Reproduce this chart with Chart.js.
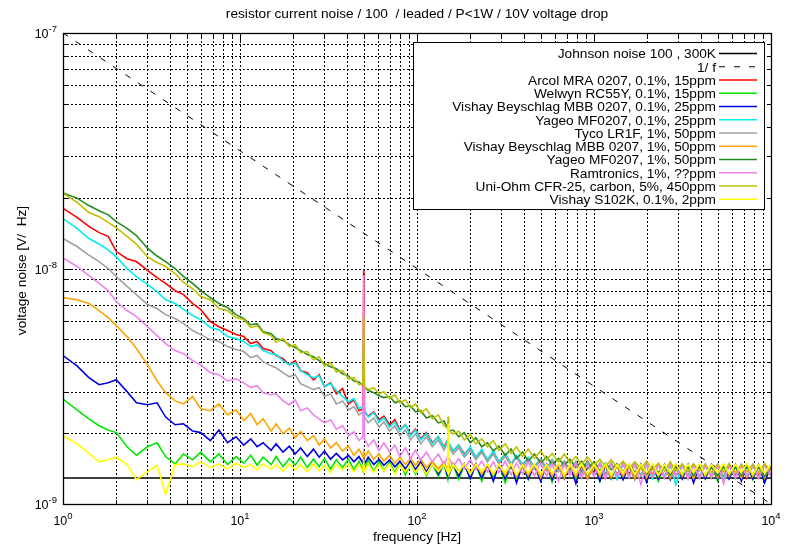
<!DOCTYPE html>
<html>
<head>
<meta charset="utf-8">
<title>resistor current noise</title>
<script src="https://cdn.jsdelivr.net/npm/chart.js@4.4.1/dist/chart.umd.min.js"></script>
<style>
  body { margin: 0; background: #fff; }
  canvas { display: block; }
</style>
</head>
<body>
<canvas id="noiseChart" width="794" height="547"></canvas>
<script>
// frequenzen [Hz], gemeinsam fuer alle messungen
const freqs = [1, 1.2, 1.4, 1.6, 1.8, 2, 2.3, 2.6, 3, 3.4, 3.8, 4.3, 4.8, 5.4, 6, 6.8, 7.6, 8.5, 9.5,
  10.5, 11.5, 12.5, 13.5, 15, 16, 17.5, 19, 20.5, 22, 24, 26, 28, 30, 32.5, 35, 38, 41, 44, 47, 49.5, 50, 50.5,
  53, 57, 61, 65, 70, 75, 80, 86, 92, 98,
  105, 113, 122, 132, 142, 149, 150, 151, 160, 172, 185, 200, 215, 232, 250, 270, 290, 315, 340, 365, 395,
  425, 460, 500, 540, 580, 630, 680, 730, 790, 850, 920, 1000,
  1080, 1160, 1250, 1350, 1460, 1580, 1700, 1840, 1980, 2140, 2310, 2500, 2700, 2900, 3150, 3400, 3650,
  3950, 4250, 4600, 5000, 5400, 5800, 6300, 6800, 7300, 7900, 8500, 9200, 10000];

// spannungsrauschen in nV/sqrt(Hz)
const arcol = [18.0, 16.5, 15.1, 14.2, 13.7, 11.8, 11.0, 10.7, 9.81, 9.15,
  8.64, 8.05, 7.75, 7.10, 6.70, 5.95, 5.66, 5.45, 5.24, 5.14,
  4.80, 4.90, 4.57, 4.48, 4.27, 4.14, 3.90, 4.06, 3.68, 3.61,
  3.37, 3.54, 3.15, 3.27, 2.94, 3.09, 2.66, 2.77, 2.49, 2.54,
  9.81, 2.46, 2.36, 2.46, 2.28, 2.36, 2.17, 2.28, 2.06, 2.17,
  1.97, 2.08, 1.89, 2.01, 1.82, 1.93, 1.75, 1.87, 1.76, 1.80,
  1.68, 1.78, 1.63, 1.73, 1.58, 1.69, 1.54, 1.66, 1.51, 1.63,
  1.48, 1.59, 1.47, 1.56, 1.44, 1.55, 1.41, 1.54, 1.40, 1.52,
  1.38, 1.51, 1.37, 1.52, 1.36, 1.49, 1.34, 1.49, 1.33, 1.48,
  1.34, 1.48, 1.32, 1.47, 1.33, 1.48, 1.31, 1.47, 1.32, 1.46,
  1.31, 1.47, 1.29, 1.46, 1.31, 1.47, 1.29, 1.46, 1.31, 1.47,
  1.29, 1.46, 1.31, 1.47, 1.32];

const welwyn = [2.79, 2.51, 2.30, 2.15, 2.06, 2.01, 1.75, 1.61, 1.75, 1.82,
  1.59, 1.48, 1.63, 1.54, 1.66, 1.51, 1.63, 1.47, 1.59, 1.49,
  1.61, 1.46, 1.58, 1.47, 1.59, 1.44, 1.56, 1.46, 1.58, 1.43,
  1.55, 1.44, 1.56, 1.41, 1.54, 1.43, 1.55, 1.40, 1.52, 1.38,
  1.51, 1.41, 1.54, 1.37, 1.52, 1.38, 1.51, 1.36, 1.51, 1.33,
  1.49, 1.34, 1.49, 1.32, 1.48, 1.31, 1.48, 1.28, 1.48, 1.31,
  1.47, 1.27, 1.47, 1.29, 1.48, 1.25, 1.47, 1.29, 1.47, 1.23,
  1.47, 1.28, 1.46, 1.27, 1.47, 1.29, 1.46, 1.24, 1.47, 1.28,
  1.46, 1.27, 1.47, 1.29, 1.46, 1.25, 1.47, 1.28, 1.46, 1.29,
  1.47, 1.27, 1.46, 1.28, 1.47, 1.25, 1.46, 1.29, 1.47, 1.28,
  1.46, 1.27, 1.47, 1.29, 1.46, 1.25, 1.47, 1.28, 1.46, 1.29,
  1.47, 1.27, 1.46, 1.28, 1.47];

const vishayMbb01 = [4.27, 3.86, 3.44, 3.21, 3.27, 3.37, 3.00, 2.69, 2.64, 2.69,
  2.34, 2.17, 2.19, 2.04, 2.01, 1.86, 2.06, 1.82, 1.93, 1.78,
  1.89, 1.75, 1.82, 1.69, 1.80, 1.66, 1.76, 1.63, 1.73, 1.59,
  1.71, 1.58, 1.68, 1.55, 1.64, 1.54, 1.61, 1.51, 1.59, 1.49,
  1.56, 1.48, 1.58, 1.47, 1.55, 1.46, 1.54, 1.44, 1.52, 1.41,
  1.52, 1.40, 1.51, 1.37, 1.51, 1.34, 1.49, 1.32, 1.49, 1.33,
  1.48, 1.31, 1.48, 1.28, 1.48, 1.29, 1.47, 1.25, 1.47, 1.28,
  1.47, 1.23, 1.47, 1.28, 1.46, 1.25, 1.47, 1.27, 1.46, 1.28,
  1.47, 1.22, 1.46, 1.28, 1.47, 1.25, 1.46, 1.28, 1.47, 1.27,
  1.46, 1.28, 1.47, 1.24, 1.46, 1.28, 1.47, 1.27, 1.46, 1.28,
  1.47, 1.23, 1.46, 1.28, 1.47, 1.27, 1.46, 1.28, 1.47, 1.25,
  1.46, 1.28, 1.47, 1.23, 1.46];

const yageo01 = [16.3, 14.8, 13.4, 12.7, 12.0, 11.2, 10.0, 9.24, 8.56, 7.98,
  7.37, 7.10, 6.70, 6.31, 6.07, 5.61, 5.50, 5.14, 5.04, 4.90,
  4.66, 4.75, 4.48, 4.35, 4.31, 4.06, 3.90, 3.98, 3.68, 3.54,
  3.44, 3.50, 3.15, 3.24, 3.03, 2.86, 2.72, 2.80, 2.54, 2.61,
  2.49, 2.51, 2.34, 2.44, 2.23, 2.32, 2.12, 2.23, 2.04, 2.17,
  1.95, 2.06, 1.87, 1.99, 1.80, 1.93, 1.73, 1.86, 1.75, 1.82,
  1.68, 1.78, 1.61, 1.75, 1.58, 1.71, 1.54, 1.68, 1.51, 1.63,
  1.48, 1.61, 1.46, 1.58, 1.43, 1.55, 1.40, 1.54, 1.38, 1.52,
  1.36, 1.51, 1.34, 1.51, 1.32, 1.49, 1.33, 1.48, 1.27, 1.48,
  1.31, 1.47, 1.32, 1.47, 1.28, 1.47, 1.31, 1.46, 1.21, 1.46,
  1.31, 1.47, 1.29, 1.46, 1.31, 1.47, 1.28, 1.46, 1.29, 1.47,
  1.31, 1.46, 1.29, 1.47, 1.31];

const tyco = [13.4, 12.4, 11.4, 10.7, 10.0, 9.24, 8.39, 7.75, 7.03, 6.76,
  6.37, 6.13, 5.83, 5.45, 5.24, 4.99, 4.90, 4.66, 4.53, 4.44,
  4.18, 4.27, 4.02, 3.86, 3.79, 3.61, 3.47, 3.54, 3.24, 3.15,
  3.06, 3.12, 2.86, 2.94, 2.66, 2.74, 2.51, 2.59, 2.39, 2.46,
  2.42, 2.34, 2.21, 2.32, 2.12, 2.23, 2.04, 2.15, 1.95, 2.06,
  1.87, 1.99, 1.80, 1.93, 1.75, 1.87, 1.69, 1.82, 1.73, 1.76,
  1.63, 1.73, 1.58, 1.69, 1.54, 1.66, 1.51, 1.63, 1.48, 1.59,
  1.46, 1.58, 1.43, 1.55, 1.41, 1.54, 1.38, 1.52, 1.37, 1.51,
  1.36, 1.51, 1.34, 1.49, 1.33, 1.49, 1.32, 1.48, 1.33, 1.48,
  1.31, 1.47, 1.32, 1.48, 1.31, 1.47, 1.29, 1.47, 1.31, 1.48,
  1.29, 1.47, 1.31, 1.48, 1.29, 1.47, 1.31, 1.48, 1.29, 1.47,
  1.31, 1.47, 1.29, 1.48, 1.32];

const vishayMbb1 = [7.52, 7.37, 7.10, 6.63, 6.19, 5.72, 5.14, 4.57, 3.90, 3.33,
  2.97, 2.74, 2.66, 2.86, 2.54, 2.49, 2.66, 2.39, 2.51, 2.26,
  2.42, 2.17, 2.30, 2.04, 2.19, 1.99, 2.10, 1.91, 2.03, 1.86,
  1.95, 1.78, 1.89, 1.73, 1.82, 1.68, 1.76, 1.61, 1.71, 1.59,
  1.66, 1.58, 1.68, 1.55, 1.63, 1.52, 1.61, 1.49, 1.58, 1.47,
  1.56, 1.46, 1.55, 1.43, 1.52, 1.41, 1.51, 1.40, 1.49, 1.38,
  1.49, 1.37, 1.48, 1.36, 1.48, 1.34, 1.47, 1.33, 1.47, 1.32,
  1.47, 1.31, 1.46, 1.32, 1.47, 1.29, 1.46, 1.31, 1.47, 1.29,
  1.46, 1.31, 1.47, 1.28, 1.46, 1.31, 1.47, 1.29, 1.46, 1.31,
  1.47, 1.28, 1.46, 1.29, 1.47, 1.31, 1.46, 1.29, 1.47, 1.31,
  1.46, 1.28, 1.47, 1.31, 1.46, 1.29, 1.47, 1.31, 1.46, 1.29,
  1.47, 1.31, 1.46, 1.29, 1.46];

const yageo1 = [20.9, 19.9, 18.5, 17.6, 16.9, 15.8, 14.8, 13.8, 12.2, 11.3,
  10.7, 10.0, 9.24, 8.64, 8.05, 7.52, 7.10, 6.83, 6.37, 6.13,
  5.77, 5.83, 5.39, 5.29, 5.04, 4.95, 4.75, 4.62, 4.48, 4.31,
  4.22, 4.06, 3.94, 3.83, 3.75, 3.57, 3.50, 3.33, 3.30, 3.18,
  3.21, 3.12, 3.03, 2.97, 2.88, 2.83, 2.86, 2.69, 2.74, 2.59,
  2.61, 2.46, 2.49, 2.32, 2.37, 2.21, 2.25, 2.10, 2.17, 2.04,
  2.06, 1.93, 2.01, 1.82, 1.91, 1.75, 1.82, 1.68, 1.76, 1.61,
  1.71, 1.56, 1.66, 1.52, 1.63, 1.49, 1.59, 1.47, 1.56, 1.46,
  1.55, 1.43, 1.52, 1.41, 1.51, 1.38, 1.49, 1.40, 1.48, 1.37,
  1.47, 1.36, 1.47, 1.34, 1.46, 1.36, 1.44, 1.33, 1.46, 1.34,
  1.44, 1.32, 1.44, 1.33, 1.43, 1.32, 1.44, 1.33, 1.43, 1.32,
  1.44, 1.33, 1.43, 1.31, 1.41];

const ramtronics = [11.1, 10.2, 9.33, 8.64, 8.05, 7.24, 6.63, 6.25, 5.66, 5.19,
  4.80, 4.48, 4.35, 4.06, 3.90, 3.61, 3.54, 3.33, 3.40, 3.27,
  3.12, 3.18, 2.97, 2.91, 2.94, 2.74, 2.64, 2.77, 2.49, 2.56,
  2.39, 2.30, 2.21, 2.28, 2.08, 2.15, 1.95, 2.03, 1.86, 1.93,
  9.33, 1.89, 1.76, 1.87, 1.69, 1.82, 1.66, 1.78, 1.59, 1.73,
  1.56, 1.69, 1.54, 1.66, 1.51, 1.63, 1.47, 1.59, 1.55, 1.58,
  1.44, 1.56, 1.41, 1.54, 1.40, 1.52, 1.37, 1.51, 1.36, 1.52,
  1.33, 1.49, 1.34, 1.51, 1.32, 1.49, 1.31, 1.48, 1.25, 1.48,
  1.32, 1.49, 1.29, 1.47, 1.31, 1.48, 1.28, 1.47, 1.31, 1.48,
  1.29, 1.47, 1.21, 1.47, 1.31, 1.48, 1.29, 1.47, 1.31, 1.47,
  1.28, 1.47, 1.29, 1.47, 1.31, 1.47, 1.22, 1.47, 1.29, 1.47,
  1.31, 1.47, 1.29, 1.47, 1.31];

const uniOhm = [20.9, 19.1, 17.3, 16.6, 15.7, 14.9, 13.7, 12.7, 11.2, 10.6,
  10.2, 9.52, 8.73, 8.22, 7.60, 7.37, 6.76, 6.63, 6.19, 6.07,
  5.61, 5.72, 5.34, 5.19, 4.86, 5.04, 4.66, 4.75, 4.39, 4.44,
  4.10, 4.22, 3.86, 3.98, 3.64, 3.68, 3.40, 3.44, 3.21, 3.24,
  6.31, 3.15, 3.06, 3.12, 2.94, 3.00, 2.80, 2.91, 2.69, 2.77,
  2.56, 2.66, 2.44, 2.54, 2.30, 2.39, 2.15, 2.10, 2.35, 2.06,
  1.98, 2.04, 1.87, 1.98, 1.80, 1.89, 1.75, 1.86, 1.69, 1.80,
  1.64, 1.75, 1.59, 1.71, 1.56, 1.68, 1.54, 1.64, 1.51, 1.63,
  1.49, 1.59, 1.47, 1.58, 1.46, 1.55, 1.44, 1.54, 1.43, 1.52,
  1.41, 1.51, 1.41, 1.52, 1.40, 1.49, 1.38, 1.51, 1.38, 1.48,
  1.37, 1.48, 1.38, 1.47, 1.36, 1.47, 1.37, 1.48, 1.36, 1.47,
  1.37, 1.47, 1.36, 1.48, 1.38];

const vishayS102k = [1.95, 1.80, 1.64, 1.51, 1.54, 1.58, 1.47, 1.27, 1.37, 1.46,
  1.10, 1.47, 1.48, 1.44, 1.51, 1.43, 1.48, 1.41, 1.49, 1.43,
  1.47, 1.40, 1.48, 1.41, 1.47, 1.38, 1.48, 1.40, 1.47, 1.37,
  1.48, 1.38, 1.46, 1.36, 1.47, 1.40, 1.48, 1.37, 1.47, 1.38,
  1.55, 1.37, 1.48, 1.36, 1.47, 1.38, 1.48, 1.34, 1.47, 1.37,
  1.48, 1.36, 1.47, 1.34, 1.48, 1.37, 1.47, 1.36, 2.19, 1.34,
  1.47, 1.36, 1.48, 1.34, 1.47, 1.37, 1.48, 1.34, 1.47, 1.36,
  1.48, 1.33, 1.47, 1.36, 1.48, 1.34, 1.47, 1.36, 1.48, 1.33,
  1.47, 1.36, 1.48, 1.34, 1.47, 1.36, 1.48, 1.33, 1.47, 1.36,
  1.48, 1.34, 1.47, 1.36, 1.48, 1.33, 1.47, 1.36, 1.48, 1.34,
  1.47, 1.36, 1.48, 1.33, 1.47, 1.36, 1.48, 1.34, 1.47, 1.36,
  1.48, 1.33, 1.47, 1.36, 1.47];

// referenzlinien (V/sqrt(Hz))
const johnsonFreqs = [1, 10000];
const johnsonNoise = [1.29e-9, 1.29e-9];
const flickerFreqs = [1, 10000];
const flickerNoise = [1e-7, 1e-9];

// achsen
const xDecades = [1, 10, 100, 1000, 10000];
const xExponents = ['0', '1', '2', '3', '4'];
const yDecades = [1e-9, 1e-8, 1e-7];
const yExponents = ['-9', '-8', '-7'];

const measurements = [
  { label: 'Arcol MRA 0207, 0.1%, 15ppm', color: '#ff0000', values: arcol },
  { label: 'Welwyn RC55Y, 0.1%, 15ppm', color: '#00e600', values: welwyn },
  { label: 'Vishay Beyschlag MBB 0207, 0.1%, 25ppm', color: '#0000e0', values: vishayMbb01 },
  { label: 'Yageo MF0207, 0.1%, 25ppm', color: '#00eeee', values: yageo01 },
  { label: 'Tyco LR1F, 1%, 50ppm', color: '#a0a0a0', values: tyco },
  { label: 'Vishay Beyschlag MBB 0207, 1%, 50ppm', color: '#ffa500', values: vishayMbb1 },
  { label: 'Yageo MF0207, 1%, 50ppm', color: '#228b22', values: yageo1 },
  { label: 'Ramtronics, 1%, ??ppm', color: '#ee82ee', values: ramtronics },
  { label: 'Uni-Ohm CFR-25, carbon, 5%, 450ppm', color: '#c0c000', values: uniOhm },
  { label: 'Vishay S102K, 0.1%, 2ppm', color: '#ffff00', values: vishayS102k }
];

const FONT = "'Liberation Sans', Arial, Helvetica, sans-serif";

const datasets = [
  {
    label: 'Johnson noise 100 , 300K',
    data: johnsonFreqs.map((f, i) => ({ x: f, y: johnsonNoise[i] })),
    borderColor: '#000000',
    borderWidth: 1.5
  },
  {
    label: '1/ f',
    data: flickerFreqs.map((f, i) => ({ x: f, y: flickerNoise[i] })),
    borderColor: '#000000',
    borderWidth: 1,
    borderDash: [6, 9]
  }
].concat(measurements.map(m => ({
  label: m.label,
  data: freqs.map((f, i) => ({ x: f, y: m.values[i] * 1e-9 })),
  borderColor: m.color,
  borderWidth: 1.6
})));

// gnuplot zeichnet in reihenfolge -> letzte kurve oben
datasets.forEach((d, i) => {
  d.order = datasets.length - i;
  d.pointRadius = 0;
  d.tension = 0;
  d.fill = false;
});

function gridValues(decades) {
  const out = [];
  for (let i = 0; i < decades.length - 1; i++) {
    for (let m = 1; m < 10; m++) out.push(decades[i] * m);
  }
  out.push(decades[decades.length - 1]);
  return out;
}

function drawPower(ctx, exp, x, y, align) {
  ctx.font = '12.5px ' + FONT;
  const wBase = ctx.measureText('10').width;
  ctx.font = '9.5px ' + FONT;
  const wExp = ctx.measureText(exp).width;
  let left = align === 'center' ? x - (wBase + wExp) / 2 : x - wBase - wExp;
  ctx.textAlign = 'left';
  ctx.textBaseline = 'alphabetic';
  ctx.font = '12.5px ' + FONT;
  ctx.fillText('10', left, y);
  ctx.font = '9.5px ' + FONT;
  ctx.fillText(exp, left + wBase, y - 6);
}

const gnuplotFrame = {
  id: 'gnuplotFrame',
  beforeDatasetsDraw(chart) {
    const { ctx, chartArea: a, scales: { x, y } } = chart;
    ctx.save();
    ctx.strokeStyle = '#000';
    ctx.lineWidth = 1;
    ctx.setLineDash([2, 2]);
    ctx.beginPath();
    gridValues(xDecades).forEach(v => {
      const px = Math.round(x.getPixelForValue(v)) + 0.5;
      if (px < a.left + 2 || px > a.right - 2) return;
      ctx.moveTo(px, a.top);
      ctx.lineTo(px, a.bottom);
    });
    gridValues(yDecades).forEach(v => {
      const py = Math.round(y.getPixelForValue(v)) + 0.5;
      if (py < a.top + 2 || py > a.bottom - 2) return;
      ctx.moveTo(a.left, py);
      ctx.lineTo(a.right, py);
    });
    ctx.stroke();
    ctx.restore();
  },
  afterDatasetsDraw(chart) {
    const { ctx, chartArea: a, scales: { x, y } } = chart;
    ctx.save();
    ctx.strokeStyle = '#000';
    ctx.setLineDash([]);

    // ticks auf allen vier seiten
    ctx.lineWidth = 1;
    ctx.beginPath();
    gridValues(xDecades).forEach(v => {
      const px = Math.round(x.getPixelForValue(v)) + 0.5;
      const len = xDecades.includes(v) ? 8 : 4;
      ctx.moveTo(px, a.bottom); ctx.lineTo(px, a.bottom - len);
      ctx.moveTo(px, a.top); ctx.lineTo(px, a.top + len);
    });
    gridValues(yDecades).forEach(v => {
      const py = Math.round(y.getPixelForValue(v)) + 0.5;
      const len = yDecades.includes(v) ? 8 : 4;
      ctx.moveTo(a.left, py); ctx.lineTo(a.left + len, py);
      ctx.moveTo(a.right, py); ctx.lineTo(a.right - len, py);
    });
    ctx.stroke();

    // rahmen
    ctx.lineWidth = 1.3;
    ctx.strokeRect(Math.round(a.left) + 0.5, Math.round(a.top) + 0.5,
      Math.round(a.right - a.left), Math.round(a.bottom - a.top));

    // legende (gnuplot key, rechts oben)
    const bx = a.left + 350, by = a.top + 9, bw = 351, bh = 167;
    ctx.fillStyle = '#fff';
    ctx.fillRect(bx, by, bw, bh);
    ctx.lineWidth = 1;
    ctx.strokeStyle = '#000';
    ctx.strokeRect(bx + 0.5, by + 0.5, bw, bh);
    ctx.font = '13.7px ' + FONT;
    ctx.textAlign = 'right';
    ctx.textBaseline = 'middle';
    chart.data.datasets.forEach((d, i) => {
      const ry = by + 11.5 + i * 13.25;
      ctx.fillStyle = '#000';
      ctx.fillText(d.label, bx + 303, ry + 1);
      ctx.save();
      ctx.strokeStyle = d.borderColor;
      ctx.lineWidth = d.borderWidth;
      ctx.setLineDash(d.borderDash || []);
      ctx.beginPath();
      ctx.moveTo(bx + 306, ry);
      ctx.lineTo(bx + 344, ry);
      ctx.stroke();
      ctx.restore();
    });

    // achsenbeschriftung
    ctx.fillStyle = '#000';
    xDecades.forEach((v, i) => {
      drawPower(ctx, xExponents[i], x.getPixelForValue(v), a.bottom + 21, 'center');
    });
    yDecades.forEach((v, i) => {
      drawPower(ctx, yExponents[i], a.left - 6, y.getPixelForValue(v) + 5, 'right');
    });

    ctx.font = '13.7px ' + FONT;
    ctx.textAlign = 'center';
    ctx.textBaseline = 'middle';
    ctx.fillText('resistor current noise / 100  / leaded / P<1W / 10V voltage drop', (a.left + a.right) / 2, 14);
    ctx.fillText('frequency [Hz]', (a.left + a.right) / 2, 537);
    ctx.translate(22, (a.top + a.bottom) / 2 + 2);
    ctx.rotate(-Math.PI / 2);
    ctx.fillText('voltage noise [V/  Hz]', 0, 0);
    ctx.restore();
  }
};

new Chart(document.getElementById('noiseChart').getContext('2d'), {
  type: 'line',
  data: { datasets: datasets },
  options: {
    responsive: false,
    animation: false,
    devicePixelRatio: 1,
    layout: { padding: { left: 63, top: 33, right: 23, bottom: 43 } },
    scales: {
      x: { type: 'logarithmic', min: 1, max: 10000, display: false },
      y: { type: 'logarithmic', min: 1e-9, max: 1e-7, display: false }
    },
    plugins: {
      legend: { display: false },
      tooltip: { enabled: false }
    }
  },
  plugins: [gnuplotFrame]
});
</script>
</body>
</html>
